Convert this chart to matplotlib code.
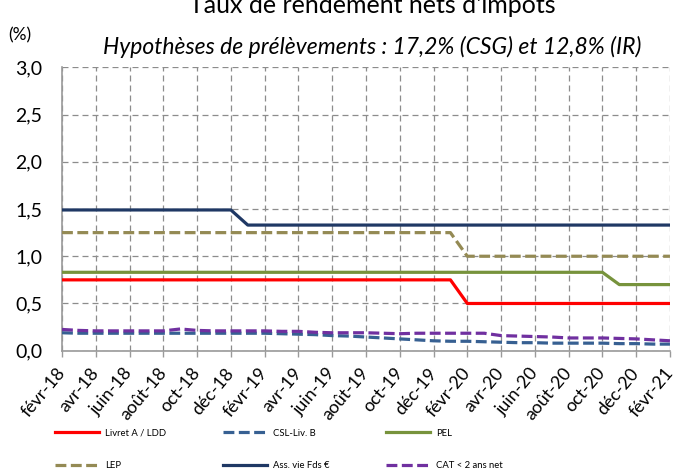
import numpy as np
import matplotlib
matplotlib.use("Agg")
from matplotlib import pyplot as plt

# monthly values, févr-18 .. févr-21 (37 months)
months = ["févr-18", "mars-18", "avr-18", "mai-18", "juin-18", "juil-18", "août-18", "sept-18",
          "oct-18", "nov-18", "déc-18", "janv-19", "févr-19", "mars-19", "avr-19", "mai-19",
          "juin-19", "juil-19", "août-19", "sept-19", "oct-19", "nov-19", "déc-19", "janv-20",
          "févr-20", "mars-20", "avr-20", "mai-20", "juin-20", "juil-20", "août-20", "sept-20",
          "oct-20", "nov-20", "déc-20", "janv-21", "févr-21"]

livret_a = [0.75, 0.75, 0.75, 0.75, 0.75, 0.75, 0.75, 0.75, 0.75, 0.75, 0.75, 0.75,
            0.75, 0.75, 0.75, 0.75, 0.75, 0.75, 0.75, 0.75, 0.75, 0.75, 0.75, 0.75,
            0.50, 0.50, 0.50, 0.50, 0.50, 0.50, 0.50, 0.50, 0.50, 0.50, 0.50, 0.50, 0.50]
csl = [0.19, 0.185, 0.185, 0.185, 0.185, 0.185, 0.185, 0.185, 0.185, 0.185, 0.185, 0.185,
       0.185, 0.18, 0.175, 0.17, 0.16, 0.155, 0.145, 0.135, 0.125, 0.115, 0.105, 0.10,
       0.10, 0.095, 0.09, 0.085, 0.085, 0.08, 0.08, 0.08, 0.08, 0.075, 0.075, 0.07, 0.07]
pel = [0.83, 0.83, 0.83, 0.83, 0.83, 0.83, 0.83, 0.83, 0.83, 0.83, 0.83, 0.83,
       0.83, 0.83, 0.83, 0.83, 0.83, 0.83, 0.83, 0.83, 0.83, 0.83, 0.83, 0.83,
       0.83, 0.83, 0.83, 0.83, 0.83, 0.83, 0.83, 0.83, 0.83, 0.70, 0.70, 0.70, 0.70]
lep = [1.25, 1.25, 1.25, 1.25, 1.25, 1.25, 1.25, 1.25, 1.25, 1.25, 1.25, 1.25,
       1.25, 1.25, 1.25, 1.25, 1.25, 1.25, 1.25, 1.25, 1.25, 1.25, 1.25, 1.25,
       1.00, 1.00, 1.00, 1.00, 1.00, 1.00, 1.00, 1.00, 1.00, 1.00, 1.00, 1.00, 1.00]
ass_vie = [1.49, 1.49, 1.49, 1.49, 1.49, 1.49, 1.49, 1.49, 1.49, 1.49, 1.49, 1.33,
           1.33, 1.33, 1.33, 1.33, 1.33, 1.33, 1.33, 1.33, 1.33, 1.33, 1.33, 1.33,
           1.33, 1.33, 1.33, 1.33, 1.33, 1.33, 1.33, 1.33, 1.33, 1.33, 1.33, 1.33, 1.33]
cat = [0.225, 0.215, 0.21, 0.21, 0.21, 0.21, 0.21, 0.23, 0.215, 0.21, 0.21, 0.21,
       0.21, 0.205, 0.205, 0.195, 0.19, 0.19, 0.19, 0.185, 0.18, 0.185, 0.185, 0.185,
       0.185, 0.185, 0.16, 0.155, 0.15, 0.145, 0.135, 0.135, 0.135, 0.13, 0.125, 0.115, 0.105]

series = [
    ("Livret A / LDD", livret_a, "#FF0000", "-"),
    ("CSL-Liv. B", csl, "#376092", (0, (3.4, 1.4))),
    ("PEL", pel, "#77933C", "-"),
    ("LEP", lep, "#948A54", (0, (3.4, 1.4))),
    ("Ass. vie Fds €", ass_vie, "#1F3864", "-"),
    ("CAT < 2 ans net", cat, "#7030A0", (0, (3.4, 1.4))),
]

plt.rcParams["font.family"] = ["Lato", "DejaVu Sans"]

fig = plt.figure(figsize=(6.77, 4.70), dpi=100)
ax = fig.add_axes([0.0916, 0.2538, 0.898, 0.603])

x = np.arange(len(months))
handles = {}
for name, vals, col, ls in series:
    ln, = ax.plot(x, vals, color=col, lw=2.3, ls=ls, label=name, zorder=3)
    handles[name] = ln

ax.set_xlim(0, len(months) - 1)
ax.set_ylim(0, 3.0)
ax.set_yticks(np.arange(0, 3.01, 0.5))
ax.set_yticklabels([f"{v:.1f}".replace(".", ",") for v in np.arange(0, 3.01, 0.5)])
ax.set_xticks(x[::2])
ax.set_xticklabels(months[::2], rotation=50, ha="right", va="center",
                   rotation_mode="anchor")

grid_col = "#8C8C8C"
ax.grid(True, color=grid_col, lw=0.9, ls=(0, (4.8, 3.2)))
for s in ["top", "right"]:
    ax.spines[s].set_visible(False)
for s in ["left", "bottom"]:
    ax.spines[s].set_color("#9A9A9A")
    ax.spines[s].set_linewidth(1.2)
ax.tick_params(axis="y", length=0, pad=14, labelsize=14)
ax.tick_params(axis="x", length=4, width=1.0, color="#9A9A9A", pad=10, labelsize=12.8)

fig.text(0.55, 1 - 13 / 470, "Taux de rendement nets d'impôts", ha="center",
         va="baseline", fontsize=18)
fig.text(0.55, 1 - 54 / 470, "Hypothèses de prélèvements : 17,2% (CSG) et 12,8% (IR)",
         ha="center", va="baseline", fontsize=16.5, style="italic")
fig.text(0.012, 1 - 35 / 470, "(%)", ha="left", va="center", fontsize=12.5)

# legend is filled column by column
order = ["Livret A / LDD", "LEP", "CSL-Liv. B", "Ass. vie Fds €", "PEL", "CAT < 2 ans net"]
leg = fig.legend([handles[n] for n in order], order, ncol=3, loc="upper left",
                 bbox_to_anchor=(51 / 677, 1 - 425 / 470), frameon=False,
                 fontsize=6.8, handlelength=4.7, handletextpad=0.6, columnspacing=6.0,
                 labelspacing=2.5, borderaxespad=0)

fig.savefig("out.png", dpi=100)
